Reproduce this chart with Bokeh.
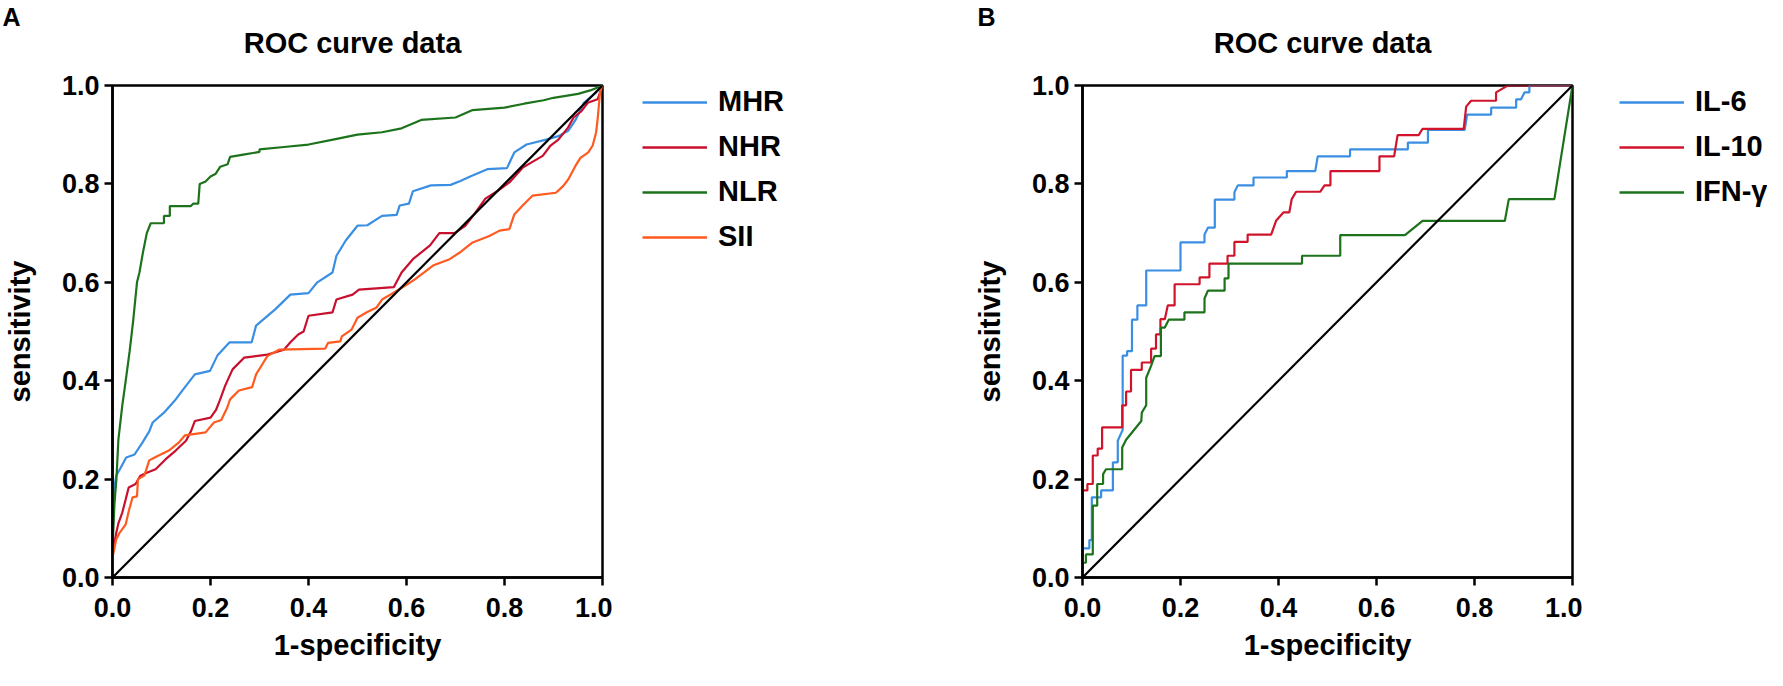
from bokeh.plotting import figure
from bokeh.models import Range1d, Legend, LegendItem, FixedTicker, NumeralTickFormatter
from bokeh.core.properties import value
from bokeh.layouts import row, column
from bokeh.embed import file_html
from bokeh.resources import INLINE

# ---------------- data ----------------
tick_vals = [0.0, 0.2, 0.4, 0.6, 0.8, 1.0]
panel_titles = ["ROC curve data", "ROC curve data"]
panel_tags = ["A", "B"]
x_label = "1-specificity"
y_label = "sensitivity"

names_a = ["MHR", "NHR", "NLR", "SII"]
names_b = ["IL-6", "IL-10", "IFN-γ"]

mhr_x = [0, 0, 0.002, 0.005, 0.0075, 0.015, 0.028, 0.045, 0.061, 0.075, 0.082, 0.105, 0.129, 0.144, 0.168, 0.199, 0.214, 0.239, 0.284, 0.293, 0.332, 0.363, 0.40, 0.418, 0.449, 0.457, 0.476, 0.50, 0.52, 0.55, 0.58, 0.586, 0.605, 0.613, 0.65, 0.69, 0.71, 0.73, 0.765, 0.805, 0.82, 0.845, 0.885, 0.91, 0.93, 0.945, 0.962, 0.986, 1.0]
mhr_y = [0, 0.06, 0.136, 0.19, 0.207, 0.22, 0.244, 0.25, 0.274, 0.297, 0.315, 0.335, 0.362, 0.382, 0.413, 0.42, 0.451, 0.478, 0.478, 0.512, 0.545, 0.575, 0.578, 0.60, 0.62, 0.654, 0.685, 0.715, 0.716, 0.735, 0.737, 0.756, 0.76, 0.785, 0.797, 0.798, 0.806, 0.815, 0.83, 0.832, 0.864, 0.88, 0.89, 0.897, 0.908, 0.93, 0.965, 0.985, 1.0]

nhr_x = [0, 0, 0.004, 0.0075, 0.012, 0.02, 0.027, 0.033, 0.047, 0.057, 0.07, 0.088, 0.108, 0.129, 0.15, 0.16, 0.168, 0.20, 0.211, 0.219, 0.23, 0.245, 0.269, 0.316, 0.35, 0.363, 0.379, 0.39, 0.40, 0.449, 0.457, 0.49, 0.503, 0.574, 0.59, 0.613, 0.648, 0.667, 0.698, 0.72, 0.738, 0.761, 0.785, 0.81, 0.837, 0.878, 0.894, 0.91, 0.93, 0.941, 0.957, 0.97, 0.99, 1.0]
nhr_y = [0, 0.05, 0.07, 0.09, 0.11, 0.132, 0.159, 0.183, 0.19, 0.207, 0.213, 0.22, 0.24, 0.258, 0.278, 0.297, 0.318, 0.325, 0.34, 0.36, 0.39, 0.423, 0.447, 0.453, 0.463, 0.478, 0.494, 0.5, 0.532, 0.539, 0.565, 0.575, 0.585, 0.59, 0.62, 0.647, 0.675, 0.70, 0.70, 0.715, 0.738, 0.77, 0.785, 0.803, 0.833, 0.857, 0.878, 0.89, 0.915, 0.935, 0.948, 0.965, 0.972, 1.0]

nlr_x = [0, 0, 0.004, 0.008, 0.012, 0.02, 0.027, 0.035, 0.042, 0.05, 0.055, 0.062, 0.07, 0.078, 0.105, 0.105, 0.117, 0.117, 0.16, 0.165, 0.175, 0.178, 0.19, 0.20, 0.21, 0.22, 0.235, 0.24, 0.27, 0.30, 0.30, 0.35, 0.40, 0.45, 0.50, 0.55, 0.59, 0.63, 0.70, 0.735, 0.80, 0.84, 0.88, 0.90, 0.95, 0.975, 1.0]
nlr_y = [0, 0.06, 0.15, 0.2, 0.28, 0.35, 0.4, 0.46, 0.52, 0.6, 0.62, 0.66, 0.70, 0.72, 0.72, 0.735, 0.735, 0.755, 0.755, 0.76, 0.76, 0.80, 0.805, 0.815, 0.82, 0.835, 0.84, 0.855, 0.86, 0.865, 0.87, 0.875, 0.88, 0.89, 0.90, 0.905, 0.913, 0.93, 0.935, 0.95, 0.955, 0.963, 0.97, 0.975, 0.983, 0.99, 1.0]

sii_x = [0, 0, 0.004, 0.0075, 0.014, 0.027, 0.034, 0.041, 0.05, 0.052, 0.065, 0.075, 0.088, 0.115, 0.135, 0.148, 0.19, 0.207, 0.222, 0.234, 0.24, 0.258, 0.285, 0.293, 0.308, 0.316, 0.34, 0.434, 0.44, 0.465, 0.468, 0.488, 0.50, 0.519, 0.539, 0.55, 0.574, 0.597, 0.617, 0.636, 0.654, 0.688, 0.708, 0.722, 0.735, 0.769, 0.79, 0.81, 0.82, 0.837, 0.857, 0.905, 0.92, 0.93, 0.945, 0.955, 0.971, 0.98, 0.987, 0.99, 0.995, 1.0]
sii_y = [0, 0.04, 0.06, 0.077, 0.09, 0.108, 0.138, 0.163, 0.165, 0.2, 0.207, 0.238, 0.245, 0.258, 0.274, 0.289, 0.295, 0.315, 0.32, 0.345, 0.362, 0.38, 0.387, 0.413, 0.437, 0.45, 0.463, 0.465, 0.477, 0.48, 0.49, 0.504, 0.528, 0.539, 0.549, 0.565, 0.579, 0.593, 0.606, 0.62, 0.634, 0.647, 0.66, 0.671, 0.681, 0.694, 0.705, 0.708, 0.738, 0.756, 0.776, 0.782, 0.796, 0.809, 0.837, 0.853, 0.864, 0.878, 0.905, 0.931, 0.986, 1.0]

il6_x = [0, 0, 0.014, 0.014, 0.019, 0.019, 0.038, 0.038, 0.062, 0.062, 0.072, 0.072, 0.082, 0.082, 0.091, 0.091, 0.101, 0.101, 0.112, 0.112, 0.13, 0.13, 0.2, 0.2, 0.249, 0.249, 0.256, 0.27, 0.27, 0.31, 0.31, 0.317, 0.349, 0.349, 0.417, 0.417, 0.475, 0.48, 0.546, 0.546, 0.664, 0.664, 0.705, 0.705, 0.78, 0.785, 0.834, 0.834, 0.885, 0.885, 0.895, 0.902, 0.912, 0.912, 1.0]
il6_y = [0, 0.059, 0.059, 0.076, 0.076, 0.163, 0.163, 0.177, 0.177, 0.234, 0.234, 0.278, 0.30, 0.451, 0.451, 0.46, 0.46, 0.524, 0.524, 0.553, 0.553, 0.624, 0.624, 0.681, 0.681, 0.697, 0.711, 0.711, 0.768, 0.768, 0.783, 0.797, 0.797, 0.813, 0.813, 0.826, 0.826, 0.856, 0.856, 0.87, 0.87, 0.884, 0.884, 0.91, 0.91, 0.941, 0.941, 0.955, 0.955, 0.972, 0.972, 0.986, 0.986, 1.0, 1.0]

il10_x = [0, 0, 0.01, 0.01, 0.021, 0.021, 0.031, 0.031, 0.04, 0.04, 0.081, 0.081, 0.089, 0.089, 0.099, 0.099, 0.121, 0.121, 0.14, 0.14, 0.15, 0.15, 0.159, 0.159, 0.168, 0.174, 0.188, 0.188, 0.239, 0.239, 0.259, 0.259, 0.296, 0.296, 0.31, 0.31, 0.337, 0.337, 0.385, 0.395, 0.41, 0.422, 0.427, 0.436, 0.485, 0.494, 0.506, 0.506, 0.606, 0.606, 0.636, 0.643, 0.686, 0.694, 0.778, 0.783, 0.793, 0.844, 0.844, 0.868, 1.0]
il10_y = [0, 0.177, 0.177, 0.19, 0.19, 0.248, 0.248, 0.262, 0.262, 0.305, 0.305, 0.35, 0.35, 0.378, 0.378, 0.422, 0.422, 0.437, 0.437, 0.465, 0.465, 0.494, 0.494, 0.525, 0.525, 0.553, 0.553, 0.596, 0.596, 0.61, 0.61, 0.638, 0.638, 0.654, 0.654, 0.682, 0.682, 0.697, 0.697, 0.725, 0.742, 0.742, 0.769, 0.784, 0.784, 0.797, 0.797, 0.826, 0.826, 0.856, 0.856, 0.899, 0.899, 0.912, 0.912, 0.957, 0.969, 0.969, 0.986, 1.0, 1.0]

ifn_x = [0, 0, 0.007, 0.007, 0.021, 0.021, 0.03, 0.03, 0.042, 0.042, 0.048, 0.081, 0.081, 0.089, 0.12, 0.121, 0.13, 0.13, 0.14, 0.147, 0.16, 0.16, 0.168, 0.176, 0.208, 0.208, 0.249, 0.249, 0.256, 0.29, 0.29, 0.298, 0.298, 0.448, 0.448, 0.526, 0.526, 0.658, 0.694, 0.862, 0.87, 0.963, 1.0]
ifn_y = [0, 0.03, 0.03, 0.047, 0.047, 0.146, 0.146, 0.19, 0.19, 0.21, 0.22, 0.22, 0.264, 0.28, 0.318, 0.335, 0.35, 0.406, 0.43, 0.45, 0.45, 0.508, 0.508, 0.524, 0.524, 0.539, 0.539, 0.567, 0.583, 0.583, 0.608, 0.608, 0.638, 0.638, 0.654, 0.654, 0.696, 0.696, 0.725, 0.725, 0.769, 0.769, 1.0]

diag_x = [0.0, 1.0]
diag_y = [0.0, 1.0]

colors_a = ["#3b8fe3", "#c8102e", "#1c731c", "#ff5a1f"]
colors_b = ["#3b8fe3", "#d0142c", "#1c731c"]

series_a = [(mhr_x, mhr_y), (nhr_x, nhr_y), (nlr_x, nlr_y), (sii_x, sii_y)]
series_b = [(il6_x, il6_y), (il10_x, il10_y), (ifn_x, ifn_y)]

# ---------------- layout constants ----------------
FONT = "Liberation Sans"
FRAME_W = 490
FRAME_H = 492
HEAD_H = 68
TOP = 17
BOTTOM = 93
RIGHT = 10
LEFT_A, LEFT_B = 107, 202
LEG_A_W, LEG_B_W = 268, 185
PLOT_H = TOP + FRAME_H + BOTTOM


def make_panel(left, series, colors):
    p = figure(frame_width=FRAME_W, frame_height=FRAME_H,
               min_border_left=left, min_border_right=RIGHT,
               min_border_top=TOP, min_border_bottom=BOTTOM,
               x_range=Range1d(0, 1), y_range=Range1d(0, 1),
               output_backend="svg", toolbar_location=None)
    p.grid.visible = False
    p.background_fill_color = "white"
    p.border_fill_color = "white"
    p.outline_line_color = "black"
    p.outline_line_width = 2.5
    p.outline_line_alpha = 1

    for ax in (p.xaxis, p.yaxis):
        ax.ticker = FixedTicker(ticks=tick_vals)
        ax.formatter = NumeralTickFormatter(format="0.0")
        ax.axis_line_width = 2.5
        ax.axis_line_color = "black"
        ax.major_tick_line_width = 2.5
        ax.major_tick_line_color = "black"
        ax.major_tick_out = 8
        ax.major_tick_in = 0
        ax.minor_tick_out = 0
        ax.minor_tick_in = 0
        ax.major_label_text_font = FONT
        ax.major_label_text_font_size = "27px"
        ax.major_label_text_font_style = "bold"
        ax.major_label_text_color = "black"
        ax.axis_label_text_font = FONT
        ax.axis_label_text_font_size = "29px"
        ax.axis_label_text_font_style = "bold"
        ax.axis_label_text_color = "black"
    p.xaxis.axis_label = x_label
    p.yaxis.axis_label = y_label
    p.xaxis.major_label_standoff = 12
    p.xaxis.axis_label_standoff = 9
    p.yaxis.major_label_standoff = 5
    p.yaxis.axis_label_standoff = 23

    for (xs, ys), c in zip(series, colors):
        p.line(xs, ys, line_color=c, line_width=2.2)
    p.line(diag_x, diag_y, line_color="black", line_width=2.2)
    return p


def make_legend(width, names, series, colors, dx, top):
    # legend-only canvas: the proxy lines use the real series but lie outside its view
    lf = figure(width=width, height=PLOT_H, min_border_left=dx, min_border_top=top,
                min_border_right=0, min_border_bottom=0,
                x_range=Range1d(5, 6), y_range=Range1d(5, 6),
                x_axis_location=None, y_axis_location=None,
                output_backend="svg", toolbar_location=None)
    lf.grid.visible = False
    lf.outline_line_color = None
    lf.background_fill_color = "white"
    lf.border_fill_color = "white"
    items = []
    for n, (xs, ys), c in zip(names, series, colors):
        r = lf.line(xs, ys, line_color=c, line_width=2.6)
        items.append(LegendItem(label=n, renderers=[r]))
    legend = Legend(items=items, location="top_left", orientation="vertical",
                    glyph_width=65, glyph_height=32, label_height=32, label_width=40,
                    label_standoff=11, spacing=12, padding=0, margin=0,
                    border_line_alpha=0, background_fill_alpha=0,
                    label_text_font=FONT, label_text_font_size="29px",
                    label_text_font_style="bold", label_text_color="black")
    lf.add_layout(legend)
    return lf


pa = make_panel(LEFT_A, series_a, colors_a)
la = make_legend(LEG_A_W, names_a, series_a, colors_a, 30, TOP)
pb = make_panel(LEFT_B, series_b, colors_b)
lb = make_legend(LEG_B_W, names_b, series_b, colors_b, 37, TOP - 2)

A_W = LEFT_A + FRAME_W + RIGHT
B_X0 = A_W + LEG_A_W
ROW_W = B_X0 + LEFT_B + FRAME_W + RIGHT + LEG_B_W

head = figure(width=ROW_W, height=HEAD_H, min_border=0,
              x_range=Range1d(0, ROW_W), y_range=Range1d(0, HEAD_H),
              x_axis_location=None, y_axis_location=None,
              output_backend="svg", toolbar_location=None)
head.grid.visible = False
head.outline_line_color = None
head.background_fill_color = "white"
head.border_fill_color = "white"
title_x = [LEFT_A + FRAME_W / 2, B_X0 + LEFT_B + FRAME_W / 2]
head.text(x=title_x, y=[HEAD_H - 42, HEAD_H - 42], text=panel_titles,
          text_font=value(FONT), text_font_size="29px", text_font_style="bold",
          text_align="center", text_baseline="middle", text_color="black")
tag_x = [2, B_X0 + LEFT_B - 100]
head.text(x=tag_x, y=[HEAD_H - 16, HEAD_H - 16], text=panel_tags,
          text_font=value(FONT), text_font_size="25px", text_font_style="bold",
          text_align="left", text_baseline="middle", text_color="black")

layout = column(head, row(pa, la, pb, lb))

open("out.html", "w").write(file_html(layout, INLINE))
